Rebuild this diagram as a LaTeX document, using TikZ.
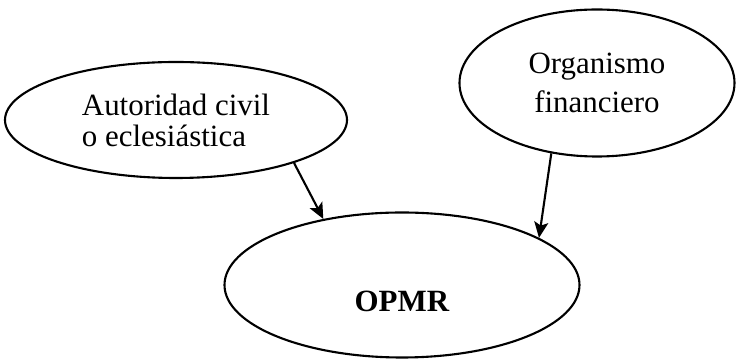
\documentclass[tikz,border=0pt]{standalone}
\usepackage{fontspec}
\setmainfont{Liberation Serif}
\usepackage{tikz}
\usetikzlibrary{shapes.geometric, arrows.meta}
\tikzstyle{oval} = [ellipse, draw=black, line width=1.2pt, inner sep=2pt, font=\fontsize{17.6pt}{17.6pt}\selectfont]
\tikzstyle{arrow} = [line width=1.2pt, -{Stealth[length=9pt, width=8pt, inset=2pt]}]

\begin{document}
\begin{tikzpicture}
    \useasboundingbox (0,0) rectangle (14.74,-7.2);
    \node (aut) [oval, minimum width=6.84cm, minimum height=2.32cm, align=left] at (3.52,-2.40) {Autoridad civil\\o eclesiástica};
    \node (fin) [oval, minimum width=5.50cm, minimum height=2.94cm, align=center, font=\fontsize{17.6pt}{22pt}\selectfont] at (11.94,-1.66) {Organismo\\financiero};
    \node (opmr) [oval, minimum width=7.10cm, minimum height=2.90cm, text height=1.05cm, text depth=0pt] at (8.04,-5.70) {\textbf{OPMR}};
    \draw [arrow] (aut.-20) -- (opmr.140);
    \draw [arrow] (fin.237) -- (opmr.19);
\end{tikzpicture}
\end{document}
